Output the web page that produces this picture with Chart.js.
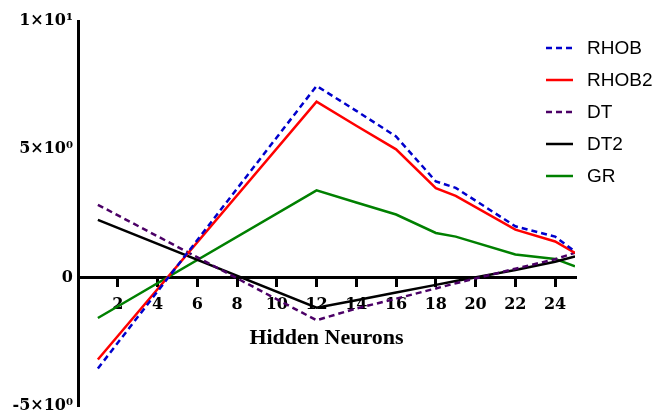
<!DOCTYPE html>
<html>
<head>
<meta charset="utf-8">
<script src="https://cdn.jsdelivr.net/npm/chart.js@4/dist/chart.umd.min.js"></script>
<style>
  html, body { margin: 0; padding: 0; background: #fff; }
  #wrap { width: 653px; height: 419px; }
</style>
</head>
<body>
<div id="wrap"><canvas id="neuronsChart"></canvas></div>
<script>
// values
const neurons = [1, 12, 14, 16, 18, 19, 22, 24, 25];
const rhob  = [-3.54, 7.47, 6.5, 5.5, 3.75, 3.5, 2.0, 1.6, 1.02];
const rhob2 = [-3.19, 6.86, 5.92, 5.0, 3.49, 3.19, 1.87, 1.41, 0.96];
const dt    = [2.84, -1.66, -1.2, -0.82, -0.42, -0.22, 0.35, 0.72, 0.97];
const dt2   = [2.25, -1.17, -0.88, -0.58, -0.28, -0.13, 0.3, 0.62, 0.83];
const gr    = [-1.57, 3.40, 2.93, 2.46, 1.74, 1.6, 0.9, 0.73, 0.44];

const yTickValues = [-5, 0, 5, 10];
const yTickLabels = ['-5×10⁰', '0', '5×10⁰', '1×10¹'];

const pts = ys => neurons.map((x, i) => ({ x, y: ys[i] }));
const serif = '"Liberation Serif", "Times New Roman", serif';
const tickSerif = '"DejaVu Serif", serif';

const sideLegend = {
  id: 'sideLegend',
  afterDraw(chart) {
    const ctx = chart.ctx;
    ctx.save();
    chart.data.datasets.forEach((ds, i) => {
      const y = 48 + i * 32;
      ctx.strokeStyle = ds.borderColor;
      ctx.lineWidth = 2.5;
      ctx.setLineDash(ds.borderDash || []);
      ctx.beginPath();
      ctx.moveTo(546, y);
      ctx.lineTo(573, y);
      ctx.stroke();
      ctx.setLineDash([]);
      ctx.fillStyle = '#000';
      ctx.font = '19px "Liberation Sans", Arial, sans-serif';
      ctx.textBaseline = 'middle';
      ctx.fillText(ds.label, 587, y + 1);
    });
    ctx.restore();
  }
};

const line = (label, ys, color, dash) => ({
  label, data: pts(ys),
  borderColor: color, backgroundColor: color,
  borderWidth: 2.5, borderDash: dash, pointRadius: 0, tension: 0, fill: false,
});

new Chart(document.getElementById('neuronsChart'), {
  type: 'line',
  data: {
    datasets: [
      line('RHOB', rhob, '#0000cc', [6, 4]),
      line('RHOB2', rhob2, '#ff0000', []),
      line('DT', dt, '#4b0066', [6, 4]),
      line('DT2', dt2, '#000000', []),
      line('GR', gr, '#008000', []),
    ],
  },
  plugins: [sideLegend],
  options: {
    responsive: true, maintainAspectRatio: false, animation: false,
    layout: { padding: { top: 21, bottom: 13, left: 0, right: 78 } },
    plugins: { legend: { display: false }, tooltip: { enabled: false } },
    scales: {
      x: {
        type: 'linear', position: { y: 0 }, min: 0, max: 25,
        border: { width: 3, color: '#000' },
        grid: { drawOnChartArea: false, drawTicks: true, tickLength: 8, tickWidth: 3, tickColor: '#000', lineWidth: 3 },
        ticks: {
          stepSize: 2, includeBounds: false, maxRotation: 0, autoSkip: false, padding: 10,
          color: '#000', font: { family: tickSerif, size: 16, weight: 'bold' },
          callback: v => (v === 0 ? '' : v),
        },
        title: {
          display: true, text: 'Hidden Neurons', color: '#000',
          font: { family: serif, size: 22, weight: 'bold' }, padding: { top: 0 },
        },
      },
      y: {
        type: 'linear', min: -5, max: 10,
        border: { width: 3, color: '#000' },
        grid: { display: false, drawTicks: false },
        afterFit: s => { s.width = 78; s.paddingTop = 0; s.paddingBottom = 0; },
        ticks: {
          stepSize: 5, padding: 5, color: '#000',
          font: { family: tickSerif, size: 16, weight: 'bold' },
          callback: v => yTickLabels[yTickValues.indexOf(v)],
        },
      },
    },
  },
});
</script>
</body>
</html>
